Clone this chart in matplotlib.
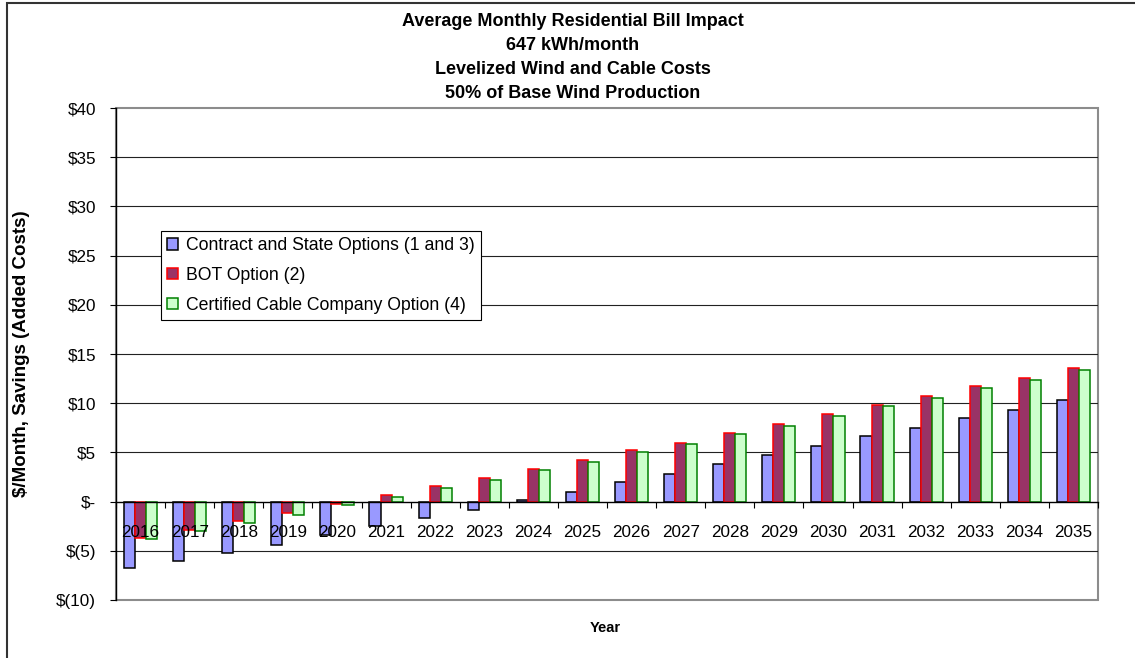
import matplotlib
matplotlib.use("Agg")
import matplotlib.pyplot as plt
from matplotlib.patches import Patch, Rectangle
from matplotlib.ticker import FixedLocator, FuncFormatter
import numpy as np

plt.rcParams['font.family'] = ['Liberation Sans', 'DejaVu Sans']

years = [str(y) for y in range(2016, 2036)]
contract_state = [-6.7, -6.0, -5.2, -4.4, -3.4, -2.5, -1.7, -0.85, 0.2, 1.0,
                  2.0, 2.85, 3.85, 4.7, 5.7, 6.7, 7.5, 8.5, 9.35, 10.35]
bot_option = [-3.7, -2.85, -2.0, -1.2, -0.2, 0.7, 1.55, 2.35, 3.35, 4.2,
              5.2, 6.0, 7.0, 7.9, 8.9, 9.85, 10.7, 11.7, 12.55, 13.55]
cable_company = [-3.75, -3.0, -2.2, -1.35, -0.35, 0.5, 1.35, 2.2, 3.2, 4.05,
                 5.05, 5.85, 6.85, 7.7, 8.7, 9.7, 10.55, 11.5, 12.35, 13.35]
series_labels = ["Contract and State Options (1 and 3)",
                 "BOT Option (2)",
                 "Certified Cable Company Option (4)"]
title_lines = ["Average Monthly Residential Bill Impact",
               "647 kWh/month",
               "Levelized Wind and Cable Costs",
               "50% of Base Wind Production"]

W, H = 1135, 658
fig = plt.figure(figsize=(W / 100, H / 100), dpi=100)
ax = fig.add_axes([116 / W, 1 - 600 / H, (1098 - 116) / W, (600 - 108) / H])

fills = ['#9999FF', '#993366', '#CCFFCC']
edges = ['#000000', '#FF0000', '#008000']
x = np.arange(len(years))
bw = 0.225
for i, vals in enumerate([contract_state, bot_option, cable_company]):
    ax.bar(x + (i - 1) * bw, vals, width=bw, color=fills[i],
           edgecolor=edges[i], linewidth=1.1, zorder=2)

ax.set_xlim(-0.5, len(years) - 0.5)
ax.set_ylim(-10, 40)

# horizontal gridlines inside the plot area
for g in range(-5, 40, 5):
    if g != 0:
        ax.axhline(g, color='#222222', lw=0.8, zorder=1)

# plot-area frame in gray
for s in ['top', 'right']:
    ax.spines[s].set_visible(False)
ax.add_patch(Rectangle((0, 0), 1, 1, transform=ax.transAxes, fill=False,
                       edgecolor='#8C8C8C', lw=1.5, clip_on=False, zorder=0.5))
ax.spines['left'].set_color('black')
ax.spines['left'].set_linewidth(1.0)

# category axis crosses at zero; its labels sit on top of the bars
ax.spines['bottom'].set_position(('data', 0))
ax.spines['bottom'].set_color('black')
ax.spines['bottom'].set_linewidth(1.0)
ax.xaxis.set_zorder(3)
ax.set_xticks(x)
ax.set_xticklabels(years, fontsize=12.3)
ax.tick_params(axis='x', which='major', length=0, pad=17)
ax.xaxis.set_minor_locator(FixedLocator(np.arange(-0.5, len(years), 1.0)))
ax.tick_params(axis='x', which='minor', length=4.5, width=0.8, direction='out')


def money(v, _pos=None):
    v = int(round(v))
    if v == 0:
        return "$-"
    if v < 0:
        return "$(%d)" % (-v)
    return "$%d" % v


ax.set_yticks(range(-10, 41, 5))
ax.yaxis.set_major_formatter(FuncFormatter(money))
ax.tick_params(axis='y', length=4.5, width=0.8, direction='out', pad=10,
               labelsize=12.3)

ax.set_ylabel("$/Month, Savings (Added Costs)", fontsize=13.5,
              fontweight='bold')
ax.yaxis.set_label_coords(30 / W, 1 - 354 / H, transform=fig.transFigure)

fig.text(605 / W, 1 - 628 / H, "Year", fontsize=10.5, fontweight='bold',
         ha='center', va='center')

for k, line in enumerate(title_lines):
    fig.text(573 / W, 1 - (21 + 24 * k) / H, line, fontsize=13,
             fontweight='bold', ha='center', va='center')

handles = [Patch(facecolor=fills[i], edgecolor=edges[i], linewidth=1.1)
           for i in range(3)]
leg = fig.legend(handles, series_labels, loc='upper left',
                 bbox_to_anchor=(161 / W, 1 - 231 / H),
                 bbox_transform=fig.transFigure, fontsize=12.7,
                 frameon=True, fancybox=False, shadow=False,
                 borderpad=0.35, borderaxespad=0, labelspacing=0.72,
                 handlelength=0.6, handleheight=0.6, handletextpad=0.45)
leg.get_frame().set_edgecolor('black')
leg.get_frame().set_linewidth(0.8)
leg.get_frame().set_alpha(1)

# outer chart border
fig.patches.append(Rectangle((7 / W, -0.1), 1.2, 1 - 3 / H + 0.1,
                             transform=fig.transFigure, fill=False,
                             edgecolor='#333333', lw=1.5, zorder=0))

fig.savefig("out.png", dpi=100)
